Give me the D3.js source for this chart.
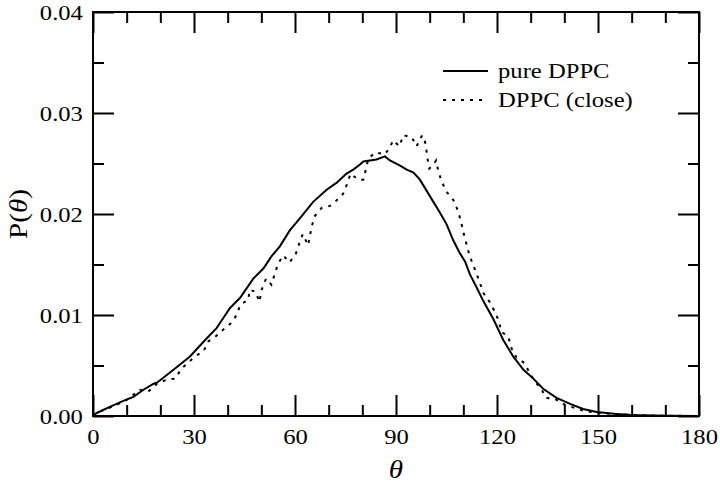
<!DOCTYPE html>
<html><head><meta charset="utf-8">
<script src="https://cdn.jsdelivr.net/npm/d3@7"></script>
<style>body{margin:0;background:#fff;} svg{display:block;}</style>
</head><body>
<svg id="c" width="720" height="484"></svg>
<script>
const pureTheta = [0,1.1,5,9,12,15,18,19,24,28.8,33.8,36.7,38.7,40.7,43.7,47.6,50.6,53,55.5,58.5,61.5,65.4,69.4,72.4,75.3,77.3,79.3,80.3,84.2,86.7,88.2,91.2,93.2,95.2,97.1,101.1,103.1,105,107,109,110.5,112,114,115.9,118.9,121.9,124.8,127.8,130.8,133.7,137.7,141.7,145.6,149.6,155.5,160,170,180];
const pureP = [0,0.0003,0.0009,0.0015,0.0019,0.0026,0.0032,0.0033,0.0046,0.0059,0.0077,0.0087,0.0097,0.0107,0.0117,0.0136,0.0146,0.0158,0.0168,0.0184,0.0196,0.0212,0.0224,0.0231,0.0240,0.0244,0.0249,0.0252,0.0254,0.0257,0.0253,0.0248,0.0244,0.0241,0.0234,0.0212,0.0201,0.0190,0.0174,0.0161,0.0153,0.0140,0.0127,0.0114,0.0096,0.0075,0.0059,0.0046,0.0037,0.0027,0.0018,0.0012,0.0007,0.0004,0.0002,0.0001,0.00003,0];
const closeTheta = [0,1,4,7,10,14,16.4,19,21.9,24.4,26.3,30.3,32.8,34.3,36.2,38.5,40.7,42.7,43.7,46.1,46.6,48.3,49.4,50.1,51.4,53,54,55,56.5,58.4,60.3,61.3,62.3,63.9,64.4,65,65.9,67.9,70.4,72.2,74.3,75.5,76.5,78.8,80.3,81.1,81.8,83.9,86.7,88,89.2,91,92.2,94.7,96.1,97.6,98.3,98.9,99.3,99.9,100.9,101.9,102.6,103.6,105,107,108.3,109.2,110,110.8,111.5,112.5,113.8,114.9,115.9,117.8,119.4,120.4,121.4,123.3,124.3,125.8,128.3,129.6,131.3,133.3,134.5,137.2,140.2,143.1,146,150,155,160,170,180];
const closeP = [0,0.0003,0.0007,0.0011,0.0016,0.0026,0.0024,0.0032,0.0036,0.0037,0.0047,0.0059,0.0064,0.0074,0.0078,0.0085,0.0091,0.0100,0.0110,0.0115,0.0125,0.0123,0.0113,0.0125,0.0136,0.0130,0.0141,0.0151,0.0159,0.0152,0.0161,0.0171,0.0180,0.0169,0.0178,0.0188,0.0198,0.0206,0.0208,0.0213,0.0220,0.0230,0.0240,0.0234,0.0234,0.0245,0.0255,0.0261,0.0259,0.0265,0.0273,0.0267,0.0278,0.0276,0.0267,0.0277,0.0277,0.0267,0.0256,0.0245,0.0248,0.0253,0.0242,0.0232,0.0222,0.0214,0.0204,0.0194,0.0182,0.0172,0.0163,0.0153,0.0142,0.0132,0.0122,0.0113,0.0103,0.0095,0.0083,0.0079,0.0067,0.0058,0.0052,0.0043,0.0034,0.0026,0.0018,0.0017,0.0011,0.0008,0.0005,0.0003,0.0002,0.0001,0.00003,0];
const xMajor = [0,30,60,90,120,150,180];
const xMinor = [10,20,40,50,70,80,100,110,130,140,160,170];
const yMajor = [0,0.01,0.02,0.03,0.04];
const yMinor = [0.005,0.015,0.025,0.035];
const seriesNames = ["pure DPPC","DPPC (close)"];

const svg = d3.select("#c");
const L=93, T=12, R=699, B=416;
const FONT = "'Liberation Serif','Times New Roman',serif";
const SX = 1.12;
const x = d3.scaleLinear().domain([0,180]).range([L,R]);
const y = d3.scaleLinear().domain([0,0.04]).range([B,T]);

function styleAxis(g){
  g.select(".domain").remove();
  g.selectAll("line").attr("stroke","#000").attr("stroke-width",2);
  g.selectAll("text").attr("font-family",FONT).attr("font-size",22).attr("fill","#000")
    .attr("transform",`scale(${SX},1)`);
}
// bottom
svg.append("g").attr("transform",`translate(0,${B})`)
  .call(d3.axisBottom(x).tickValues(xMajor).tickSize(-21).tickPadding(12).tickFormat(d3.format("d"))).call(styleAxis);
svg.append("g").attr("transform",`translate(0,${B})`)
  .call(d3.axisBottom(x).tickValues(xMinor).tickSize(-11).tickFormat("")).call(styleAxis);
// top
svg.append("g").attr("transform",`translate(0,${T})`)
  .call(d3.axisTop(x).tickValues(xMajor).tickSize(-21).tickFormat("")).call(styleAxis);
svg.append("g").attr("transform",`translate(0,${T})`)
  .call(d3.axisTop(x).tickValues(xMinor).tickSize(-11).tickFormat("")).call(styleAxis);
// left
svg.append("g").attr("transform",`translate(${L},0)`)
  .call(d3.axisLeft(y).tickValues(yMajor).tickSize(-21).tickPadding(9).tickFormat(d3.format(".2f"))).call(styleAxis);
svg.append("g").attr("transform",`translate(${L},0)`)
  .call(d3.axisLeft(y).tickValues(yMinor).tickSize(-11).tickFormat("")).call(styleAxis);
// right
svg.append("g").attr("transform",`translate(${R},0)`)
  .call(d3.axisRight(y).tickValues(yMajor).tickSize(-21).tickFormat("")).call(styleAxis);
svg.append("g").attr("transform",`translate(${R},0)`)
  .call(d3.axisRight(y).tickValues(yMinor).tickSize(-11).tickFormat("")).call(styleAxis);

// frame
svg.append("rect").attr("x",L).attr("y",T).attr("width",R-L).attr("height",B-T)
  .attr("fill","none").attr("stroke","#000").attr("stroke-width",2);

const line = d3.line().x(d=>x(d[0])).y(d=>y(d[1]));
const pure = pureTheta.map((t,i)=>[t,pureP[i]]);
const close = closeTheta.map((t,i)=>[t,closeP[i]]);
svg.append("path").datum(pure).attr("d",line).attr("fill","none").attr("stroke","#000").attr("stroke-width",2);
svg.append("path").datum(close).attr("d",line).attr("fill","none").attr("stroke","#000").attr("stroke-width",2).attr("stroke-dasharray","3,6");

// legend
const leg = svg.append("g");
leg.append("line").attr("x1",443).attr("x2",488).attr("y1",71).attr("y2",71).attr("stroke","#000").attr("stroke-width",2);
leg.append("line").attr("x1",443).attr("x2",488).attr("y1",100).attr("y2",100).attr("stroke","#000").attr("stroke-width",2).attr("stroke-dasharray","3,6");
leg.append("text").attr("transform",`translate(498,78) scale(${SX},1)`).text(seriesNames[0]).attr("font-family",FONT).attr("font-size",22);
leg.append("text").attr("transform",`translate(498,107) scale(${SX},1)`).text(seriesNames[1]).attr("font-family",FONT).attr("font-size",22);

// axis titles
svg.append("text").attr("transform",`translate(${(L+R)/2},478) scale(${SX},1)`).attr("text-anchor","middle")
  .attr("font-family",FONT).attr("font-size",26).attr("font-style","italic").text("θ");
const yt = svg.append("text").attr("transform",`translate(27,${(T+B)/2}) rotate(-90) scale(${SX},1)`).attr("text-anchor","middle")
  .attr("font-family",FONT).attr("font-size",26);
yt.append("tspan").text("P(");
yt.append("tspan").attr("font-style","italic").text("θ");
yt.append("tspan").text(")");
</script>
</body></html>
